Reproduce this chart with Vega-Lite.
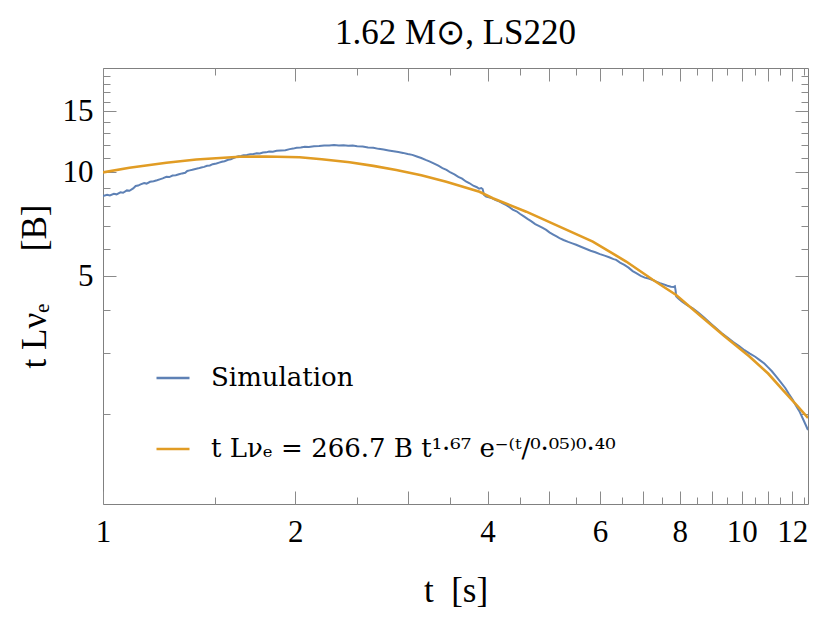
{
  "$schema": "https://vega.github.io/schema/vega-lite/v6.json",
  "width": 705,
  "height": 436,
  "autosize": {"type": "none"},
  "padding": {"left": 103, "top": 68, "right": 6, "bottom": 119},
  "background": "white",
  "title": {"text": "1.62 M⊙, LS220", "frame": "group", "anchor": "middle", "font": "Liberation Serif", "fontSize": 35, "fontWeight": "normal", "color": "black", "offset": 17},
  "datasets": {
    "sim": [
      {"t": 1.0, "v": 8.54}, {"t": 1.015, "v": 8.6}, {"t": 1.025, "v": 8.57}, {"t": 1.04, "v": 8.66}, {"t": 1.05, "v": 8.63},
      {"t": 1.065, "v": 8.75}, {"t": 1.075, "v": 8.72}, {"t": 1.09, "v": 8.86}, {"t": 1.1, "v": 8.84}, {"t": 1.115, "v": 8.98},
      {"t": 1.125, "v": 9.12}, {"t": 1.135, "v": 9.15}, {"t": 1.145, "v": 9.22}, {"t": 1.16, "v": 9.3}, {"t": 1.17, "v": 9.27},
      {"t": 1.185, "v": 9.38}, {"t": 1.2, "v": 9.42}, {"t": 1.215, "v": 9.48}, {"t": 1.23, "v": 9.55}, {"t": 1.24, "v": 9.6},
      {"t": 1.2567, "v": 9.7}, {"t": 1.27, "v": 9.68}, {"t": 1.285, "v": 9.78}, {"t": 1.3, "v": 9.8}, {"t": 1.315, "v": 9.86},
      {"t": 1.33, "v": 9.92}, {"t": 1.345, "v": 9.96}, {"t": 1.355, "v": 10.08}, {"t": 1.367, "v": 10.12}, {"t": 1.38, "v": 10.16},
      {"t": 1.395, "v": 10.22}, {"t": 1.41, "v": 10.26}, {"t": 1.425, "v": 10.32}, {"t": 1.44, "v": 10.36}, {"t": 1.455, "v": 10.44},
      {"t": 1.47, "v": 10.46}, {"t": 1.485, "v": 10.55}, {"t": 1.505, "v": 10.6}, {"t": 1.52, "v": 10.66}, {"t": 1.535, "v": 10.72},
      {"t": 1.55, "v": 10.76}, {"t": 1.57, "v": 10.86}, {"t": 1.585, "v": 10.9}, {"t": 1.6, "v": 10.98}, {"t": 1.615, "v": 11.06},
      {"t": 1.63, "v": 11.12}, {"t": 1.645, "v": 11.14}, {"t": 1.66, "v": 11.2}, {"t": 1.68, "v": 11.22}, {"t": 1.7, "v": 11.27},
      {"t": 1.72, "v": 11.28}, {"t": 1.74, "v": 11.34}, {"t": 1.76, "v": 11.33}, {"t": 1.78, "v": 11.4}, {"t": 1.8, "v": 11.41},
      {"t": 1.82, "v": 11.47}, {"t": 1.845, "v": 11.46}, {"t": 1.87, "v": 11.53}, {"t": 1.9, "v": 11.56}, {"t": 1.93, "v": 11.58},
      {"t": 1.96, "v": 11.66}, {"t": 1.985, "v": 11.7}, {"t": 2.01, "v": 11.77}, {"t": 2.04, "v": 11.79}, {"t": 2.07, "v": 11.84},
      {"t": 2.1, "v": 11.83}, {"t": 2.14, "v": 11.89}, {"t": 2.18, "v": 11.9}, {"t": 2.22, "v": 11.95}, {"t": 2.26, "v": 11.94},
      {"t": 2.3, "v": 11.99}, {"t": 2.34, "v": 11.95}, {"t": 2.38, "v": 11.97}, {"t": 2.42, "v": 11.92}, {"t": 2.46, "v": 11.94},
      {"t": 2.5, "v": 11.88}, {"t": 2.55, "v": 11.86}, {"t": 2.6, "v": 11.79}, {"t": 2.65, "v": 11.77}, {"t": 2.7, "v": 11.68},
      {"t": 2.75, "v": 11.63}, {"t": 2.8, "v": 11.56}, {"t": 2.85, "v": 11.5}, {"t": 2.9, "v": 11.44}, {"t": 2.95, "v": 11.37},
      {"t": 3.0, "v": 11.29}, {"t": 3.05, "v": 11.22}, {"t": 3.1, "v": 11.1}, {"t": 3.15, "v": 10.99}, {"t": 3.2, "v": 10.85},
      {"t": 3.25, "v": 10.73}, {"t": 3.3, "v": 10.58}, {"t": 3.35, "v": 10.44}, {"t": 3.4, "v": 10.28}, {"t": 3.45, "v": 10.16},
      {"t": 3.5, "v": 9.98}, {"t": 3.55, "v": 9.86}, {"t": 3.6, "v": 9.7}, {"t": 3.65, "v": 9.58}, {"t": 3.7, "v": 9.4},
      {"t": 3.75, "v": 9.29}, {"t": 3.8, "v": 9.14}, {"t": 3.85, "v": 9.05}, {"t": 3.88, "v": 8.96}, {"t": 3.91, "v": 9.0},
      {"t": 3.93, "v": 8.94}, {"t": 3.95, "v": 8.6}, {"t": 3.98, "v": 8.5}, {"t": 4.02, "v": 8.46}, {"t": 4.07, "v": 8.4},
      {"t": 4.12, "v": 8.31}, {"t": 4.17, "v": 8.24}, {"t": 4.227, "v": 8.13}, {"t": 4.28, "v": 8.03}, {"t": 4.33, "v": 7.92},
      {"t": 4.38, "v": 7.8}, {"t": 4.44, "v": 7.71}, {"t": 4.5, "v": 7.57}, {"t": 4.56, "v": 7.45}, {"t": 4.62, "v": 7.33},
      {"t": 4.68, "v": 7.22}, {"t": 4.75, "v": 7.08}, {"t": 4.82, "v": 6.99}, {"t": 4.88, "v": 6.9}, {"t": 4.942, "v": 6.81},
      {"t": 5.0, "v": 6.7}, {"t": 5.07, "v": 6.6}, {"t": 5.13, "v": 6.52}, {"t": 5.185, "v": 6.45}, {"t": 5.26, "v": 6.37},
      {"t": 5.35, "v": 6.29}, {"t": 5.43, "v": 6.23}, {"t": 5.506, "v": 6.17}, {"t": 5.6, "v": 6.09}, {"t": 5.7, "v": 6.01},
      {"t": 5.8, "v": 5.93}, {"t": 5.9, "v": 5.87}, {"t": 6.0, "v": 5.8}, {"t": 6.1, "v": 5.74}, {"t": 6.2, "v": 5.68},
      {"t": 6.3, "v": 5.61}, {"t": 6.36, "v": 5.58}, {"t": 6.45, "v": 5.48}, {"t": 6.55, "v": 5.4}, {"t": 6.65, "v": 5.3},
      {"t": 6.75, "v": 5.18}, {"t": 6.837, "v": 5.11}, {"t": 6.95, "v": 5.02}, {"t": 7.05, "v": 4.96}, {"t": 7.15, "v": 4.93},
      {"t": 7.257, "v": 4.88}, {"t": 7.35, "v": 4.83}, {"t": 7.45, "v": 4.78}, {"t": 7.55, "v": 4.74}, {"t": 7.65, "v": 4.7},
      {"t": 7.75, "v": 4.67}, {"t": 7.83, "v": 4.66}, {"t": 7.86, "v": 4.68}, {"t": 7.88, "v": 4.55}, {"t": 7.895, "v": 4.38},
      {"t": 7.95, "v": 4.32}, {"t": 8.05, "v": 4.24}, {"t": 8.15, "v": 4.17}, {"t": 8.25, "v": 4.11}, {"t": 8.383, "v": 4.04},
      {"t": 8.55, "v": 3.93}, {"t": 8.75, "v": 3.79}, {"t": 8.95, "v": 3.65}, {"t": 9.12, "v": 3.54}, {"t": 9.3, "v": 3.43},
      {"t": 9.5, "v": 3.33}, {"t": 9.7, "v": 3.23}, {"t": 9.918, "v": 3.14}, {"t": 10.1, "v": 3.06}, {"t": 10.3, "v": 2.99},
      {"t": 10.5, "v": 2.93}, {"t": 10.66, "v": 2.87}, {"t": 10.85, "v": 2.8}, {"t": 11.0, "v": 2.73}, {"t": 11.15, "v": 2.66},
      {"t": 11.32, "v": 2.57}, {"t": 11.5, "v": 2.48}, {"t": 11.7, "v": 2.38}, {"t": 11.85, "v": 2.29}, {"t": 12.02, "v": 2.2},
      {"t": 12.15, "v": 2.12}, {"t": 12.31, "v": 2.04}, {"t": 12.5, "v": 1.92}, {"t": 12.7, "v": 1.8}
    ],
    "fit": [
      {"t": 1.0, "v": 9.99}, {"t": 1.1, "v": 10.3}, {"t": 1.2567, "v": 10.65}, {"t": 1.4, "v": 10.88}, {"t": 1.6366, "v": 11.08},
      {"t": 1.8, "v": 11.1}, {"t": 2.0315, "v": 11.04}, {"t": 2.2, "v": 10.9}, {"t": 2.4327, "v": 10.68}, {"t": 2.65, "v": 10.43},
      {"t": 2.8786, "v": 10.15}, {"t": 3.15, "v": 9.8}, {"t": 3.447, "v": 9.39}, {"t": 3.886, "v": 8.78}, {"t": 4.077, "v": 8.41},
      {"t": 4.599, "v": 7.69}, {"t": 5.185, "v": 6.96}, {"t": 5.846, "v": 6.3}, {"t": 6.594, "v": 5.52}, {"t": 7.257, "v": 4.89},
      {"t": 7.895, "v": 4.42}, {"t": 8.587, "v": 3.87}, {"t": 9.4, "v": 3.36}, {"t": 10.283, "v": 2.935}, {"t": 11.0, "v": 2.62},
      {"t": 11.594, "v": 2.35}, {"t": 12.2, "v": 2.12}, {"t": 12.7, "v": 1.95}
    ]
  },
  "config": {
    "view": {"stroke": "#808080", "strokeWidth": 1},
    "axis": {
      "domain": false, "grid": false, "tickColor": "#8a8a8a", "tickWidth": 1,
      "labelFont": "Liberation Serif", "labelFontSize": 31, "labelColor": "black",
      "titleFont": "Liberation Serif", "titleFontSize": 35, "titleFontWeight": "normal", "titleColor": "black",
      "labelFlush": false, "labelOverlap": false
    },
    "legend": {
      "orient": "none", "legendX": 52, "legendY": 292, "padding": 0,
      "symbolType": "stroke", "symbolSize": 1089, "symbolStrokeWidth": 2.5,
      "labelFont": "DejaVu Serif", "labelFontSize": 26, "labelColor": "black", "labelOffset": 20, "labelLimit": 700,
      "rowPadding": 40, "title": null
    }
  },
  "resolve": {"axis": {"x": "independent", "y": "independent"}},
  "layer": [
    {
      "data": {"name": "sim"},
      "mark": {"type": "line", "strokeWidth": 2, "clip": true},
      "encoding": {
        "x": {"field": "t", "type": "quantitative",
              "scale": {"type": "log", "domain": [1, 12.7], "nice": false},
              "axis": {"orient": "bottom", "values": [1, 2, 3, 4, 5, 6, 7, 8, 9, 10, 11, 12], "tickSize": -13,
                       "labelPadding": 26, "labelExpr": "indexof([1,2,4,6,8,10,12], datum.value) >= 0 ? datum.label : ''",
                       "title": "t\u2002[s]", "titlePadding": 26}},
        "y": {"field": "v", "type": "quantitative",
              "scale": {"type": "log", "domain": [1.1, 20], "nice": false},
              "axis": {"orient": "left", "values": [5, 10, 15], "tickSize": -13, "labelPadding": 23,
                       "title": "t Lνₑ\u2003\u2002[B]", "titlePadding": 10}},
        "color": {"datum": "Simulation", "type": "nominal",
                  "scale": {"domain": ["Simulation", "t Lνₑ = 266.7 B t¹·⁶⁷ e⁻⁽ᵗ/⁰·⁰⁵⁾⁰·⁴⁰"], "range": ["#5E81B5", "#E19C24"]}}
      }
    },
    {
      "data": {"name": "fit"},
      "mark": {"type": "line", "strokeWidth": 2.6, "clip": true},
      "encoding": {
        "x": {"field": "t", "type": "quantitative",
              "axis": {"orient": "bottom", "values": [1.5, 2.5, 3.5, 4.5, 5.5, 6.5, 7.5, 8.5, 9.5, 10.5, 11.5, 12.5], "tickSize": -7,
                       "labels": false, "title": null}},
        "y": {"field": "v", "type": "quantitative",
              "axis": {"orient": "left", "values": [2, 3, 4, 6, 7, 8, 9, 11, 12, 13, 14, 16, 17, 18, 19], "tickSize": -7,
                       "labels": false, "title": null}},
        "color": {"datum": "t Lνₑ = 266.7 B t¹·⁶⁷ e⁻⁽ᵗ/⁰·⁰⁵⁾⁰·⁴⁰", "type": "nominal"}
      }
    },
    {
      "data": {"name": "sim"},
      "mark": {"type": "line", "strokeOpacity": 0, "clip": true},
      "encoding": {
        "x": {"field": "t", "type": "quantitative",
              "axis": {"orient": "top", "values": [1, 2, 3, 4, 5, 6, 7, 8, 9, 10, 11, 12], "tickSize": -13, "labels": false, "title": null}},
        "y": {"field": "v", "type": "quantitative",
              "axis": {"orient": "right", "values": [5, 10, 15], "tickSize": -13, "labels": false, "title": null}}
      }
    },
    {
      "data": {"name": "sim"},
      "mark": {"type": "line", "strokeOpacity": 0, "clip": true},
      "encoding": {
        "x": {"field": "t", "type": "quantitative",
              "axis": {"orient": "top", "values": [1.5, 2.5, 3.5, 4.5, 5.5, 6.5, 7.5, 8.5, 9.5, 10.5, 11.5, 12.5], "tickSize": -7, "labels": false, "title": null}},
        "y": {"field": "v", "type": "quantitative",
              "axis": {"orient": "right", "values": [2, 3, 4, 6, 7, 8, 9, 11, 12, 13, 14, 16, 17, 18, 19], "tickSize": -7, "labels": false, "title": null}}
      }
    }
  ]
}
